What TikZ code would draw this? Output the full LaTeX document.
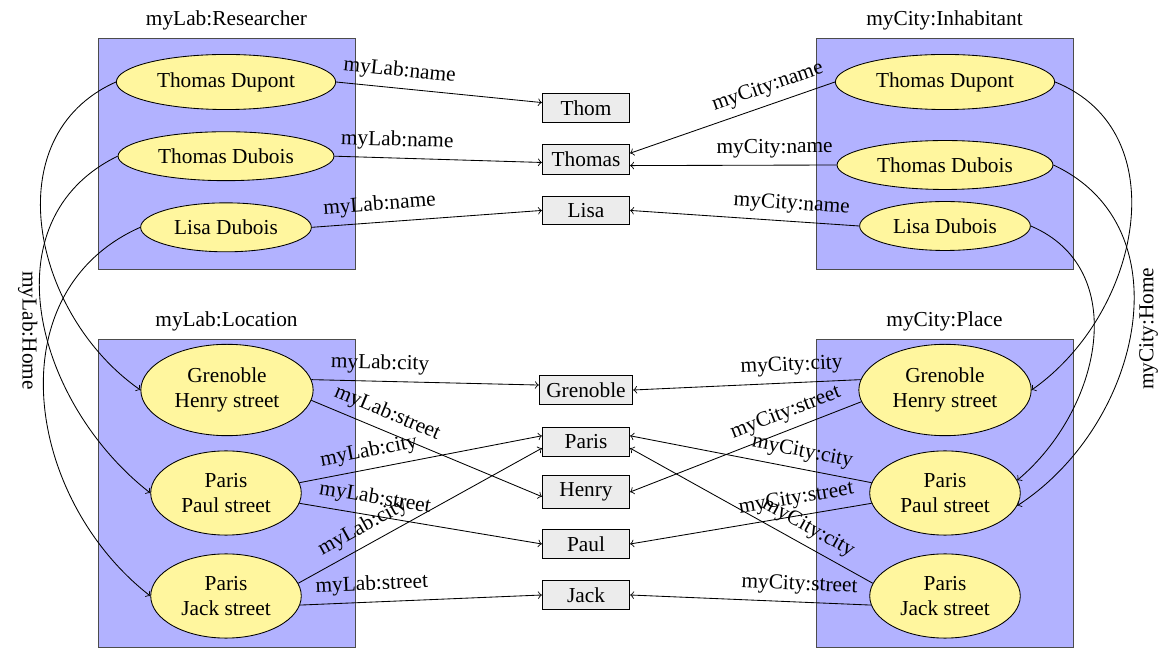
\documentclass[tikz,border=0pt]{standalone}
\usepackage{fontspec}
\setmainfont{Liberation Serif}
\usepackage{tikz}
\usetikzlibrary{arrows, positioning, shapes}

\definecolor{instyellow}{RGB}{255,246,158}

\tikzset{
	classbox/.style={draw=black!70, fill=blue!30, minimum width=120.5pt},
	inst/.style={draw, ellipse, fill=instyellow, align=center, inner xsep=4pt, inner ysep=4.6pt},
	val/.style={draw, fill=gray!15, minimum width=41pt},
	lbl/.style={above, sloped, pos=0.3},
	homeL/.style={pos=0.54, rotate=-90, anchor=north},
	homeR/.style={pos=0.5, rotate=90, anchor=north}
}

\begin{document}
\begin{tikzpicture}[x=0.469pt, y=0.469pt, node distance=10pt]

\useasboundingbox (0,0) rectangle (1161,-648);

\node [classbox, minimum height=108.3pt, label={above:{myLab:Researcher}}] (researcher) at (226.5,-153.5) {};
\node [classbox, minimum height=108.3pt, label={above:{myCity:Inhabitant}}] (inhabitant) at (944.5,-153.5) {};
\node [classbox, minimum height=144.5pt, label={above:{myLab:Location}}] (location) at (226.5,-493) {};
\node [classbox, minimum height=144.5pt, label={above:{myCity:Place}}] (place) at (944.5,-493) {};

\node [inst] (tdL) at (226,-82) {Thomas Dupont};
\node [inst, below=of tdL] (tdbL) {Thomas Dubois};
\node [inst, below=of tdbL] (ldL) {Lisa Dubois};

\node [inst] (tdR) at (945,-82) {Thomas Dupont};
\node [inst] (tdbR) at (945,-165) {Thomas Dubois};
\node [inst] (ldR) at (945,-226) {Lisa Dubois};

\node [inst] (grenL) at (227,-390) {Grenoble \\ Henry street};
\node [inst] (paulL) at (226,-493) {Paris \\ Paul street};
\node [inst] (jackL) at (226,-596) {Paris \\ Jack street};

\node [inst] (grenR) at (945,-390) {Grenoble \\ Henry street};
\node [inst] (paulR) at (945,-493) {Paris \\ Paul street};
\node [inst] (jackR) at (945,-596) {Paris \\ Jack street};

\node [val] (thom) at (586,-108) {Thom};
\node [val, below=of thom] (thomas) {Thomas};
\node [val, below=of thomas] (lisa) {Lisa};

\node [val] (grenoble) at (586,-390) {Grenoble};
\node [val] (paris) at (586,-442) {Paris};
\node [val] (henry) at (586,-492) {Henry};
\node [val] (paul) at (586,-544) {Paul};
\node [val] (jack) at (586,-595) {Jack};

% names
\path [->] (tdL.east) edge node [lbl] {myLab:name} (thom.173);
\path [->] (tdbL.east) edge node [lbl] {myLab:name} (thomas.184);
\path [->] (ldL.east) edge node [lbl] {myLab:name} (lisa.west);
\path [->] (tdR.west) edge node [lbl] {myCity:name} (thomas.8);
\path [->] (tdbR.west) edge node [lbl] {myCity:name} (thomas.-8);
\path [->] (ldR.west) edge node [lbl] {myCity:name} (lisa.east);

% cities and streets
\path [->] (grenL.7) edge node [lbl] {myLab:city} (grenoble.174);
\path [->] (grenL.-7) edge node [lbl] {myLab:street} (henry.186);
\path [->] (paulL.8) edge node [lbl] {myLab:city} (paris.172);
\path [->] (paulL.-8) edge node [lbl] {myLab:street} (paul.west);
\path [->] (jackL.10) edge node [lbl] {myLab:city} (paris.188);
\path [->] (jackL.-7) edge node [lbl] {myLab:street} (jack.west);

\path [->] (grenR.173) edge node [lbl] {myCity:city} (grenoble.east);
\path [->] (grenR.188) edge node [lbl] {myCity:street} (henry.east);
\path [->] (paulR.172) edge node [lbl] {myCity:city} (paris.8);
\path [->] (paulR.188) edge node [lbl] {myCity:street} (paul.east);
\path [->] (jackR.170) edge node [lbl] {myCity:city} (paris.-8);
\path [->] (jackR.187) edge node [lbl] {myCity:street} (jack.east);

% homes
\path [->] (tdL.west) edge [out=204, in=145, looseness=1.1] (grenL.west);
\path [->] (tdbL.west) edge [out=206, in=142, looseness=1.1] node [homeL] {myLab:Home} (paulL.west);
\path [->] (ldL.west) edge [out=204, in=142, looseness=1.1] (jackL.west);
\path [->] (tdR.east) edge [out=338, in=35, looseness=1.1] (grenR.east);
\path [->] (tdbR.east) edge [out=335, in=33, looseness=1.1] node [homeR] {myCity:Home} (paulR.-10);
\path [->] (ldR.east) edge [out=337, in=40, looseness=1.1] (paulR.10);

\end{tikzpicture}
\end{document}
